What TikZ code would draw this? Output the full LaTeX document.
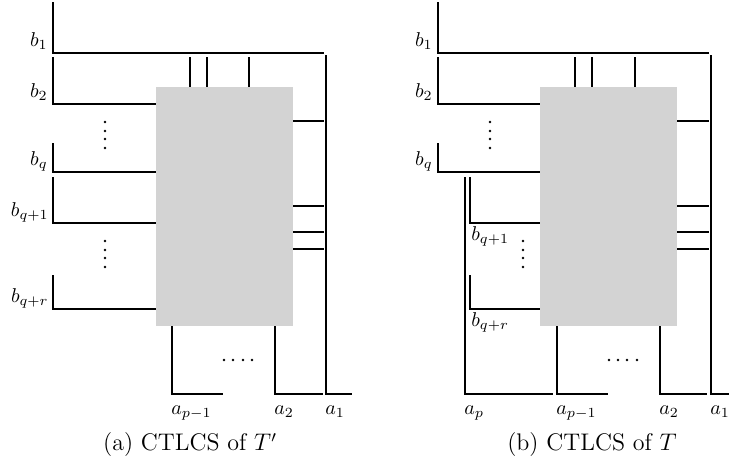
\documentclass[tikz,border=0pt]{standalone}
\usetikzlibrary{calc}
\definecolor{boxgray}{RGB}{211,211,211}
\tikzset{
  wire/.style={line width=1pt, line join=miter, line cap=butt},
  blackbox/.style={fill=boxgray, draw=none},
  lbl/.style={inner sep=0pt, font=\normalsize},
  capt/.style={inner sep=0pt, font=\large},
  dot/.style={fill=black, draw=none},
}
\begin{document}
\begin{tikzpicture}[x=0.5pt, y=-0.5pt]
\useasboundingbox (0,0) rectangle (729,466);

% ================= (a) =================
\begin{scope}
\draw[wire] (53,2) -- (53,53) -- (324,53);
\draw[wire] (326,55) -- (326,394) -- (352,394);
\draw[wire] (53,57) -- (53,104) -- (156,104);
\draw[wire] (53,143) -- (53,172) -- (156,172);
\draw[wire] (53,177) -- (53,223) -- (156,223);
\draw[wire] (53,275) -- (53,309) -- (156,309);
\foreach \x in {190,207,249} \draw[wire] (\x,57) -- (\x,87);
\foreach \y in {121,206,232,249} \draw[wire] (293,\y) -- (324,\y);
\draw[wire] (172,326) -- (172,394) -- (223,394);
\draw[wire] (275,326) -- (275,394) -- (323,394);
\fill[blackbox] (156,87) rectangle (293,326);
\foreach \y in {122,131,139,148} \fill[dot] (105,\y) circle[radius=1.4];
\foreach \y in {241,250,258,267} \fill[dot] (105,\y) circle[radius=1.4];
\foreach \x in {224,233,243,252} \fill[dot] (\x,360) circle[radius=1.4];
\node[lbl, anchor=base east] (ab1) at (48,46.5) {$b_1$};
\node[lbl, anchor=base east] (ab2) at (48,97.5) {$b_2$};
\node[lbl, anchor=base east] (abq) at (48,165.5) {$b_q$};
\node[lbl, anchor=base east] (abq1) at (49,216.5) {$b_{q+1}$};
\node[lbl, anchor=base east] (abqr) at (49,302.5) {$b_{q+r}$};
\node[lbl, anchor=base west] (aap1) at (171,414) {$a_{p-1}$};
\node[lbl, anchor=base west] (aa2) at (274,414) {$a_2$};
\node[lbl, anchor=base west] (aa1) at (325,414) {$a_1$};
\node[capt] (capa) at (190,445) {(a) CTLCS of $T'$};
\end{scope}

% ================= (b) =================
\begin{scope}
\draw[wire] (438,2) -- (438,53) -- (709,53);
\draw[wire] (711,55) -- (711,394) -- (729,394);
\draw[wire] (438,57) -- (438,104) -- (540,104);
\draw[wire] (438,143) -- (438,172) -- (540,172);
\draw[wire] (465,177) -- (465,394) -- (553,394);
\draw[wire] (469.5,177) -- (469.5,223) -- (540,223);
\draw[wire] (469.5,275) -- (469.5,309) -- (540,309);
\foreach \x in {575,592,635} \draw[wire] (\x,57) -- (\x,87);
\foreach \y in {121,206,232,249} \draw[wire] (677,\y) -- (709,\y);
\draw[wire] (557,326) -- (557,394) -- (608,394);
\draw[wire] (660,326) -- (660,394) -- (707,394);
\fill[blackbox] (540,87) rectangle (677,326);
\foreach \y in {122,131,139,148} \fill[dot] (490,\y) circle[radius=1.4];
\foreach \y in {241,250,258,267} \fill[dot] (523,\y) circle[radius=1.4];
\foreach \x in {609,618,627,637} \fill[dot] (\x,360) circle[radius=1.4];
\node[lbl, anchor=base east] (bb1) at (433,46.5) {$b_1$};
\node[lbl, anchor=base east] (bb2) at (433,97.5) {$b_2$};
\node[lbl, anchor=base east] (bbq) at (433,165.5) {$b_q$};
\node[lbl, anchor=base west] (bbq1) at (471,240) {$b_{q+1}$};
\node[lbl, anchor=base west] (bbqr) at (471,326) {$b_{q+r}$};
\node[lbl, anchor=base west] (bap) at (464,414) {$a_p$};
\node[lbl, anchor=base west] (bap1) at (556,414) {$a_{p-1}$};
\node[lbl, anchor=base west] (ba2) at (659,414) {$a_2$};
\node[lbl, anchor=base west] (ba1) at (710,414) {$a_1$};
\node[capt] (capb) at (592,445) {(b) CTLCS of $T$};
\end{scope}
\end{tikzpicture}
\end{document}
